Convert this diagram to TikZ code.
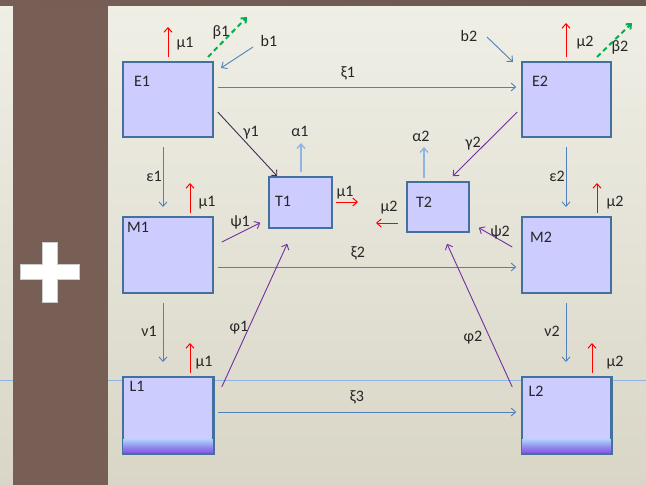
\documentclass[tikz,border=0pt]{standalone}
\usepackage{fontspec}
\setmainfont{Carlito}
\usetikzlibrary{arrows.meta,calc}
\definecolor{bgtop}{HTML}{F0EFE6}
\definecolor{bgbot}{HTML}{D9D6C7}
\definecolor{brownbar}{HTML}{785F55}
\definecolor{topbar}{HTML}{6A5750}
\definecolor{boxfill}{HTML}{CCCCFF}
\definecolor{boxline}{HTML}{41719C}
\definecolor{steel}{HTML}{4F81BD}
\definecolor{lightsteel}{HTML}{8DB4E2}
\definecolor{purp}{HTML}{7030A0}
\definecolor{darkpurp}{HTML}{3D2F50}
\definecolor{grn}{HTML}{00B050}
\definecolor{redc}{HTML}{FF0000}
\definecolor{lblue}{HTML}{A8D0F8}
\definecolor{lpurp}{HTML}{8050E4}
\tikzset{
  box/.style={draw=boxline, line width=1.5pt, fill=boxfill, inner sep=0pt, rectangle},
  lbl/.style={font=\fontsize{16}{19}\selectfont, inner sep=0pt, anchor=base, text=black!85},
  barb/.style={-{Straight Barb[length=4.5pt,width=8pt]}},
  bluearr/.style={barb, draw=steel, line width=0.9pt},
  alphaarr/.style={barb, draw=lightsteel, line width=1.3pt},
  redarr/.style={barb, draw=redc, line width=1pt},
  purparr/.style={barb, draw=purp, line width=0.9pt},
  darkarr/.style={barb, draw=darkpurp, line width=0.9pt},
  grnarr/.style={-{Straight Barb[length=4pt,width=7pt]}, draw=grn, line width=2pt, dash pattern=on 5pt off 3.5pt},
}
\begin{document}
\begin{tikzpicture}[x=1pt,y=-1pt]
\useasboundingbox (0,0) rectangle (646,485);
% background
\shade[top color=bgtop, bottom color=bgbot] (0,0) rectangle (646,485);
\draw[lightsteel, line width=0.8pt] (0,380) -- (646,380);
\fill[brownbar] (13,0) rectangle (108,485);
\shade[left color=brownbar, right color=topbar] (0,0) rectangle (646,5);
% plus sign
\fill[white, draw=black!20, line width=0.4pt] (42,242) -- (57,242) -- (57,264) -- (79,264) -- (79,279) -- (57,279) -- (57,302) -- (42,302) -- (42,279) -- (20,279) -- (20,264) -- (42,264) -- cycle;

% boxes
\node[box, minimum width=90pt, minimum height=75pt] (E1) at (168,99.5) {};
\node[box, minimum width=89pt, minimum height=75pt] (E2) at (566.5,99.5) {};
\node[box, minimum width=90pt, minimum height=76pt] (M1) at (168,255) {};
\node[box, minimum width=89pt, minimum height=76pt] (M2) at (566.5,255) {};
\node[box, minimum width=90pt, minimum height=76pt] (L1) at (168,415) {};
\node[box, minimum width=89pt, minimum height=76pt] (L2) at (566.5,415) {};
\node[box, minimum width=63pt, minimum height=51pt] (T1) at (300.5,202.5) {};
\node[box, minimum width=62pt, minimum height=50pt] (T2) at (438,207) {};
% gradient bottoms of L boxes
\shade[top color=lblue, bottom color=lpurp, middle color=lblue!45!lpurp] ($(L1.south west)+(0.75,-14)$) rectangle ($(L1.south east)+(-0.75,0)$);
\shade[top color=lblue, bottom color=lpurp, middle color=lblue!45!lpurp] ($(L2.south west)+(0.75,-14)$) rectangle ($(L2.south east)+(-0.75,0)$);
\draw[boxline, line width=1.5pt] (L1.south west) rectangle (L1.north east);
\draw[boxline, line width=1.5pt] (L2.south west) rectangle (L2.north east);

% box labels
\node[lbl] (E1t) at (142,86) {E1};
\node[lbl] (E2t) at (540,86) {E2};
\node[lbl] (T1t) at (283,206) {T1};
\node[lbl] (T2t) at (424,207) {T2};
\node[lbl] (M1t) at (138,232) {M1};
\node[lbl] (M2t) at (541,242) {M2};
\node[lbl] (L1t) at (137,391) {L1};
\node[lbl] (L2t) at (536,396) {L2};

% connectors between boxes
\draw[bluearr] ($(E1.east)+(4,-12.5)$) -- ($(E2.west)+(-5,-12.5)$);
\draw[bluearr] ($(M1.east)+(4,12)$) -- ($(M2.west)+(-5,12)$);
\draw[bluearr] ($(L1.east)+(4,-3)$) -- ($(L2.west)+(-5,-3)$);
\draw[darkarr] ($(E1.east)+(4,12.5)$) -- ($(T1.north west)+(9,0)$);
\draw[purparr] ($(E2.west)+(-4,12.5)$) -- ($(T2.north east)+(-17,-5)$);
\draw[purparr] ($(M1.east)+(8,-13)$) -- ($(T1.south west)+(-8,-6)$);
\draw[purparr] ($(M2.west)+(-9,-8)$) -- ($(T2.south east)+(9,-5)$);
\draw[purparr] ($(L1.east)+(8,-28)$) -- ($(T1.south west)+(19,15)$);
\draw[purparr] ($(L2.west)+(-9,-28)$) -- ($(T2.south)+(9,11)$);

% stub coordinates
\coordinate (mE1a) at (168,57);  \coordinate (mE1b) at (168,27);
\coordinate (bE1a) at (208,57);  \coordinate (bE1b) at (247,17);
\coordinate (b1a)  at (253,47);  \coordinate (b1b)  at (221,68);
\coordinate (mE2a) at (566,57);  \coordinate (mE2b) at (566,23);
\coordinate (bE2a) at (597,57);  \coordinate (bE2b) at (632,23);
\coordinate (b2a)  at (487,37);  \coordinate (b2b)  at (513,62);
\coordinate (e1a)  at (163,147); \coordinate (e1b)  at (163,207);
\coordinate (e2a)  at (566,147); \coordinate (e2b)  at (566,207);
\coordinate (mM1a) at (190,213); \coordinate (mM1b) at (190,183);
\coordinate (mM2a) at (597,213); \coordinate (mM2b) at (597,183);
\coordinate (n1a)  at (163,303); \coordinate (n1b)  at (163,362);
\coordinate (n2a)  at (566,303); \coordinate (n2b)  at (566,362);
\coordinate (mL1a) at (190,373); \coordinate (mL1b) at (190,343);
\coordinate (mL2a) at (592,373); \coordinate (mL2b) at (592,343);
\coordinate (a1a)  at (301,172); \coordinate (a1b)  at (301,143);
\coordinate (a2a)  at (424,178); \coordinate (a2b)  at (424,147);
\coordinate (mT1a) at (336,202); \coordinate (mT1b) at (358,202);
\coordinate (mT2a) at (398,223); \coordinate (mT2b) at (376,223);

\draw[redarr] (mE1a) -- (mE1b);
\draw[grnarr] (bE1a) -- (bE1b);
\draw[bluearr] (b1a) -- (b1b);
\draw[redarr] (mE2a) -- (mE2b);
\draw[grnarr] (bE2a) -- (bE2b);
\draw[bluearr] (b2a) -- (b2b);
\draw[bluearr] (e1a) -- (e1b);
\draw[bluearr] (e2a) -- (e2b);
\draw[redarr] (mM1a) -- (mM1b);
\draw[redarr] (mM2a) -- (mM2b);
\draw[bluearr] (n1a) -- (n1b);
\draw[bluearr] (n2a) -- (n2b);
\draw[redarr] (mL1a) -- (mL1b);
\draw[redarr] (mL2a) -- (mL2b);
\draw[alphaarr] (a1a) -- (a1b);
\draw[alphaarr] (a2a) -- (a2b);
\draw[redarr] (mT1a) -- (mT1b);
\draw[redarr] (mT2a) -- (mT2b);

% labels
\node[lbl] (l1) at (185,47) {μ1};
\node[lbl] (l2) at (221,36) {β1};
\node[lbl] (l3) at (269,46) {b1};
\node[lbl] (l4) at (348,77) {ξ1};
\node[lbl] (l5) at (251,136) {γ1};
\node[lbl] (l6) at (300,136) {α1};
\node[lbl] (l7) at (154,181) {ε1};
\node[lbl] (l8) at (207,206) {μ1};
\node[lbl] (l9) at (240,226) {ψ1};
\node[lbl] (l10) at (358,257) {ξ2};
\node[lbl] (l11) at (239,331) {φ1};
\node[lbl] (l12) at (149,336) {ν1};
\node[lbl] (l13) at (204,366) {μ1};
\node[lbl] (l14) at (357,401) {ξ3};
\node[lbl] (l15) at (345,196) {μ1};
\node[lbl] (l16) at (389,211) {μ2};
\node[lbl] (l17) at (421,141) {α2};
\node[lbl] (l18) at (473,147) {γ2};
\node[lbl] (l19) at (469,41) {b2};
\node[lbl] (l20) at (585,46) {μ2};
\node[lbl] (l21) at (620,51) {β2};
\node[lbl] (l22) at (557,181) {ε2};
\node[lbl] (l23) at (615,206) {μ2};
\node[lbl] (l24) at (500,236) {ψ2};
\node[lbl] (l25) at (473,341) {φ2};
\node[lbl] (l26) at (552,336) {ν2};
\node[lbl] (l27) at (615,366) {μ2};
\end{tikzpicture}
\end{document}
